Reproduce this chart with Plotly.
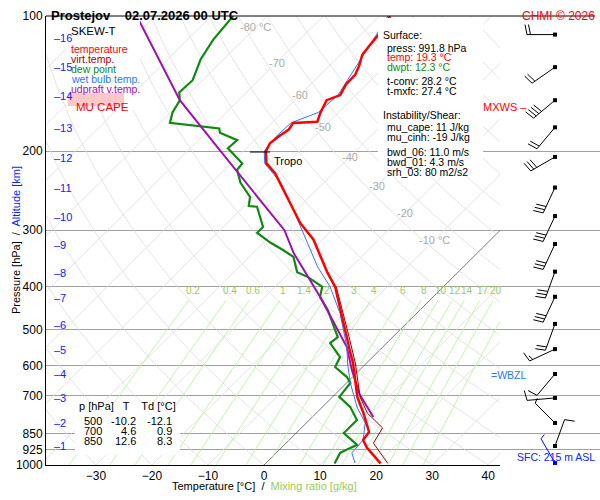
import numpy as np
import plotly.graph_objects as go

K = 35.0  # skew factor: deg C per ln(1000/p)

# --- profiles (pressure hPa, temperature degC) ---
t_p = [992, 916, 880, 844, 766, 705, 593, 563, 500, 445, 401, 373, 315, 289, 253, 224, 213, 200,
       192, 186, 179, 173, 172, 164, 154, 150, 142, 135, 129, 122, 116, 110, 105, 100]
t_val = [20.5, 15.3, 13.2, 12.8, 8.4, 4.4, -2.4, -4.7, -9.8, -14.8, -19.3, -23.2, -31.6, -37.0, -44.0,
         -50.4, -53.7, -56.0, -56.7, -56.4, -55.8, -56.2, -52.1, -53.2, -54.3, -52.8, -53.7, -53.8,
         -54.7, -56.1, -56.5, -56.8, -57.4, -58.1]

tv_p = [992, 894, 827, 766, 705, 593, 500, 445, 401]
tv_val = [21.8, 15.6, 14.5, 9.1, 4.9, -2.0, -9.4, -14.5, -19.1]

td_p = [992, 940, 916, 902, 849, 794, 743, 705, 657, 637, 605, 575, 535, 519, 452, 422, 401, 381,
        372, 344, 332, 320, 304, 295, 266, 265, 253, 235, 220, 213, 197, 189, 182, 178, 173, 164,
        154, 148, 139, 125, 113, 100]
td_val = [12.3, 11.4, 12.3, 13.0, 8.5, 8.5, 5.0, 1.2, 0.7, -1.0, -4.9, -5.8, -10.1, -9.8, -16.4, -20.2,
          -21.6, -26.0, -28.7, -32.1, -35.2, -38.7, -42.9, -42.9, -47.6, -49.2, -50.6, -54.9, -57.8,
          -58.0, -63.3, -63.1, -67.5, -68.4, -78.2, -79.6, -80.5, -82.0, -81.8, -84.1, -85.4, -86.1]

tw_p = [990, 940, 880, 806, 743, 657, 599, 546, 459, 401, 362, 320, 270, 235, 213, 200, 186, 173,
        164, 150, 129, 110, 100]
tw_val = [15.9, 13.5, 13.2, 10.5, 6.2, 0.7, -3.0, -6.4, -13.7, -20.2, -26.0, -32.1, -40.6, -47.7,
          -54.0, -56.3, -56.8, -56.6, -53.6, -53.2, -55.1, -57.2, -58.5]

par_p = [782, 698, 614, 546, 422, 387, 337, 300, 257, 199, 154, 100]
par_val = [10.9, 4.5, -1.4, -6.4, -20.2, -25.0, -32.8, -38.5, -48.3, -64.4, -80.5, -103.3]

# winds: pressure, direction (deg), speed (kt)
wind_p = [110, 130, 154, 177, 206, 241, 279, 322, 371, 422, 485, 552, 627, 709, 806, 907, 990]
wind_dir = [270, 235, 230, 220, 240, 205, 205, 205, 200, 205, 200, 245, 220, 265, 315, 20, 330]
wind_kt = [20, 20, 40, 20, 30, 30, 30, 30, 30, 30, 20, 15, 10, 10, 5, 10, 5]

isobars = [100, 200, 300, 400, 500, 600, 700, 850, 925, 1000]
mix_ratios = [0.2, 0.4, 0.6, 1, 1.4, 2, 3, 4, 6, 8, 10, 12, 14, 17, 20, 25]
iso_labels = [-80, -70, -60, -50, -40, -30, -20, -10]
iso_label_p = [106, 127, 150, 177, 206, 239, 275, 315]
alt_km = list(range(1, 17))
alt_p = [907, 806, 709, 627, 554, 488, 425, 373, 324, 280, 241, 207, 178, 151, 130, 112]


def skew(T, p):
    return np.asarray(T, float) + K * np.log(1000.0 / np.asarray(p, float))


def px(x):
    return (x - 46) / 554.0


def py(y):
    return (465 - y) / 449.0


fig = go.Figure()
pp = np.geomspace(1000, 100, 60)

# isotherms
for T in range(-130, 50, 10):
    fig.add_trace(go.Scatter(x=skew(T, [1000, 100]), y=[1000, 100], mode="lines",
                             line=dict(color="#555555" if T == 0 else "#dddddd", width=0.8),
                             hoverinfo="skip", showlegend=False))
# dry adiabats
for th in range(-30, 220, 10):
    T = (th + 273.15) * (pp / 1000) ** 0.286 - 273.15
    fig.add_trace(go.Scatter(x=skew(T, pp), y=pp, mode="lines", line=dict(color="#dddddd", width=0.8),
                             hoverinfo="skip", showlegend=False))
# mixing ratio lines
pm = np.geomspace(1000, 430, 20)
for w in mix_ratios:
    e = w * pm / (622 + w)
    a = np.log(e / 6.112)
    Td = 243.5 * a / (17.67 - a)
    fig.add_trace(go.Scatter(x=skew(Td, pm), y=pm, mode="lines", line=dict(color="#b4f0a0", width=0.8),
                             hoverinfo="skip", showlegend=False))
    e = w * 418 / (622 + w)
    a = np.log(e / 6.112)
    fig.add_annotation(x=float(skew(243.5 * a / (17.67 - a), 418)), y=np.log10(418), text=str(w),
                       showarrow=False, font=dict(color="#99cc55", size=10), yshift=4)

# profiles
fig.add_trace(go.Scatter(x=skew(td_val, td_p), y=td_p, mode="lines", line=dict(color="#118811", width=2.2)))
fig.add_trace(go.Scatter(x=skew(par_val, par_p), y=par_p, mode="lines", line=dict(color="#a010b0", width=2)))
fig.add_trace(go.Scatter(x=skew(tw_val, tw_p), y=tw_p, mode="lines", line=dict(color="#2a78ff", width=1)))
fig.add_trace(go.Scatter(x=skew(tv_val, tv_p), y=tv_p, mode="lines", line=dict(color="#a00000", width=1)))
fig.add_trace(go.Scatter(x=skew(t_val, t_p), y=t_p, mode="lines", line=dict(color="#ff0000", width=2.5)))

# wind barbs on x2 (pixel-like units)
for p, d, s in zip(wind_p, wind_dir, wind_kt):
    vx, vy = np.sin(np.radians(d)), np.cos(np.radians(d))
    x0, y0 = 55.0, 0.0
    L = 28
    xs, ys = [x0, x0 + L * vx], [y0, y0 + L * vy]
    bx, by = vy, -vx
    n_full, half = s // 10, (s % 10) >= 5
    for i in range(n_full + (1 if half else 0)):
        t = L - i * 3.5
        ln = 10 if i < n_full else 5
        sx, sy = x0 + t * vx, y0 + t * vy
        xs += [None, sx, sx + ln * bx + 2 * vx]
        ys += [None, sy, sy + ln * by + 2 * vy]
    col = "#0000ff" if p > 950 else "black"
    yy = [None if v is None else 10 ** (np.log10(p) - v / 449.0) for v in ys]
    fig.add_trace(go.Scatter(x=xs, y=yy, xaxis="x2", mode="lines", line=dict(color=col, width=1),
                             hoverinfo="skip", showlegend=False))
    fig.add_trace(go.Scatter(x=[x0], y=[p], xaxis="x2", mode="markers",
                             marker=dict(color=col, size=4, symbol="square"), showlegend=False))

for lab, p in zip(iso_labels, iso_label_p):
    fig.add_annotation(x=float(skew(lab, p)), y=np.log10(p), text=f"{lab} °C" if lab in (-80, -10) else str(lab),
                       showarrow=False, font=dict(color="#aaaaaa", size=11))
for km, p in zip(alt_km, alt_p):
    fig.add_annotation(x=px(52), y=np.log10(p), xref="paper", text=f"–{km}", showarrow=False,
                       xanchor="left", font=dict(color="#1020ff", size=11))

f = dict(family="Liberation Sans, Arial", size=11, color="black")
shapes = [
    dict(type="rect", xref="paper", yref="paper", x0=px(66), x1=px(140), y0=py(110), y1=py(17),
         fillcolor="white", line=dict(width=0), layer="above"),
    dict(type="rect", xref="paper", yref="paper", x0=px(68), x1=px(124), y0=py(106), y1=py(93),
         fillcolor="#ffc8c8", line=dict(width=0), layer="above"),
    dict(type="rect", xref="paper", yref="paper", x0=px(378), x1=px(483), y0=py(170), y1=py(18),
         fillcolor="white", line=dict(width=0), layer="above"),
    dict(type="rect", xref="paper", yref="paper", x0=px(75), x1=px(180), y0=py(455), y1=py(405),
         fillcolor="white", line=dict(width=0), layer="above"),
    dict(type="line", xref="paper", yref="paper", x0=px(46), x1=px(595), y0=1, y1=1, line=dict(color="black", width=1)),
    dict(type="line", xref="paper", yref="paper", x0=px(250), x1=px(270), y0=py(152), y1=py(152), line=dict(color="black", width=1)),
]

texts = [
    (50, 7, "<b>Prostejov    02.07.2026 00 UTC</b>", "black", 13),
    (70, 24, "SKEW-T", "black", 11.5),
    (70, 42, "temperature", "red", 10.5),
    (70, 52, "virt.temp.", "#a00000", 10.5),
    (70, 62, "dew point", "#118811", 10.5),
    (70, 72, "wet bulb temp.", "#2a78ff", 10.5),
    (70, 82, "udpraft v.temp.", "#a010b0", 10.5),
    (75, 100, "MU CAPE", "red", 11.5),
    (273, 154, "Tropo", "black", 11),
    (382, 28, "Surface:", "black", 10.5),
    (386, 41, "press: 991.8 hPa", "black", 10.5),
    (386, 50, "temp: 19.3 °C", "red", 10.5),
    (386, 60, "dwpt: 12.3 °C", "#118811", 10.5),
    (386, 74, "t-conv: 28.2 °C", "black", 10.5),
    (386, 84, "t-mxfc: 27.4 °C", "black", 10.5),
    (382, 108, "Instability/Shear:", "black", 10.5),
    (386, 120, "mu_cape: 11 J/kg", "black", 10.5),
    (386, 130, "mu_cinh: -19 J/kg", "black", 10.5),
    (386, 145, "bwd_06: 11.0 m/s", "black", 10.5),
    (386, 155, "bwd_01: 4.3 m/s", "black", 10.5),
    (386, 165, "srh_03: 80 m2/s2", "black", 10.5),
    (482, 100, "MXWS –", "red", 11),
    (490, 382, "=WBZL", "#2a78ff", 10.5),
    (78, 413, "p [hPa]   T    Td [°C]", "black", 11),
]
ann = []
for x, y, t, c, s in texts:
    ann.append(dict(x=px(x), y=py(y), xref="paper", yref="paper", text=t, showarrow=False, borderpad=0,
                    xanchor="left", font=dict(color=c, size=s, family="Liberation Sans, Arial")))
for x, y, t, c, s in [(597, 7, "CHMI © 2026", "red", 12), (597, 465, "SFC: 215 m ASL", "#1020ff", 10.5)]:
    ann.append(dict(x=px(x), y=py(y), xref="paper", yref="paper", text=t, showarrow=False,
                    xanchor="right", font=dict(color=c, size=s, family="Liberation Sans, Arial")))
tab_p = ["500", "700", "850"]
tab_t = ["-10.2", "4.6", "12.6"]
tab_td = ["-12.1", "0.9", "8.3"]
for i in range(3):
    for xx, val in zip((103, 137, 173), (tab_p[i], tab_t[i], tab_td[i])):
        ann.append(dict(x=px(xx), y=py(428 + 10 * i), xref="paper", yref="paper", text=val, borderpad=0,
                        showarrow=False, xanchor="right", font=f))
ann.append(dict(x=px(264), y=py(494), xref="paper", yref="paper", showarrow=False, font=f,
                text="Temperature [°C]  /  <span style='color:#99cc55'>Mixing ratio [g/kg]</span>"))
ann.append(dict(x=px(8), y=py(240), xref="paper", yref="paper", showarrow=False, textangle=-90, font=f,
                text="Pressure [hPa]  /  <span style='color:#1020ff'>Altitude [km]</span>"))

fig.update_layout(
    width=600, height=500, margin=dict(l=46, r=0, t=16, b=35),
    paper_bgcolor="white", plot_bgcolor="white", showlegend=False,
    font=dict(family="Liberation Sans, Arial", size=12, color="black"),
    xaxis=dict(domain=[0, 454 / 554], range=[-38.9, 42.1], tickvals=list(range(-30, 50, 10)),
               showgrid=False, zeroline=False, showline=True, linecolor="black", ticks="", tickfont=dict(size=12)),
    xaxis2=dict(domain=[454 / 554, 1], range=[0, 100], visible=False),
    yaxis=dict(type="log", range=[3, 2], tickvals=isobars, ticktext=[str(v) for v in isobars],
               showgrid=True, gridcolor="#a0a0a0", zeroline=False, showline=True, linecolor="black",
               ticks="", tickfont=dict(size=12)),
    shapes=shapes, annotations=list(fig.layout.annotations) + ann,
)
fig.write_html("out.html", config={"displayModeBar": False},
               post_script="document.body.style.margin='0px';")
